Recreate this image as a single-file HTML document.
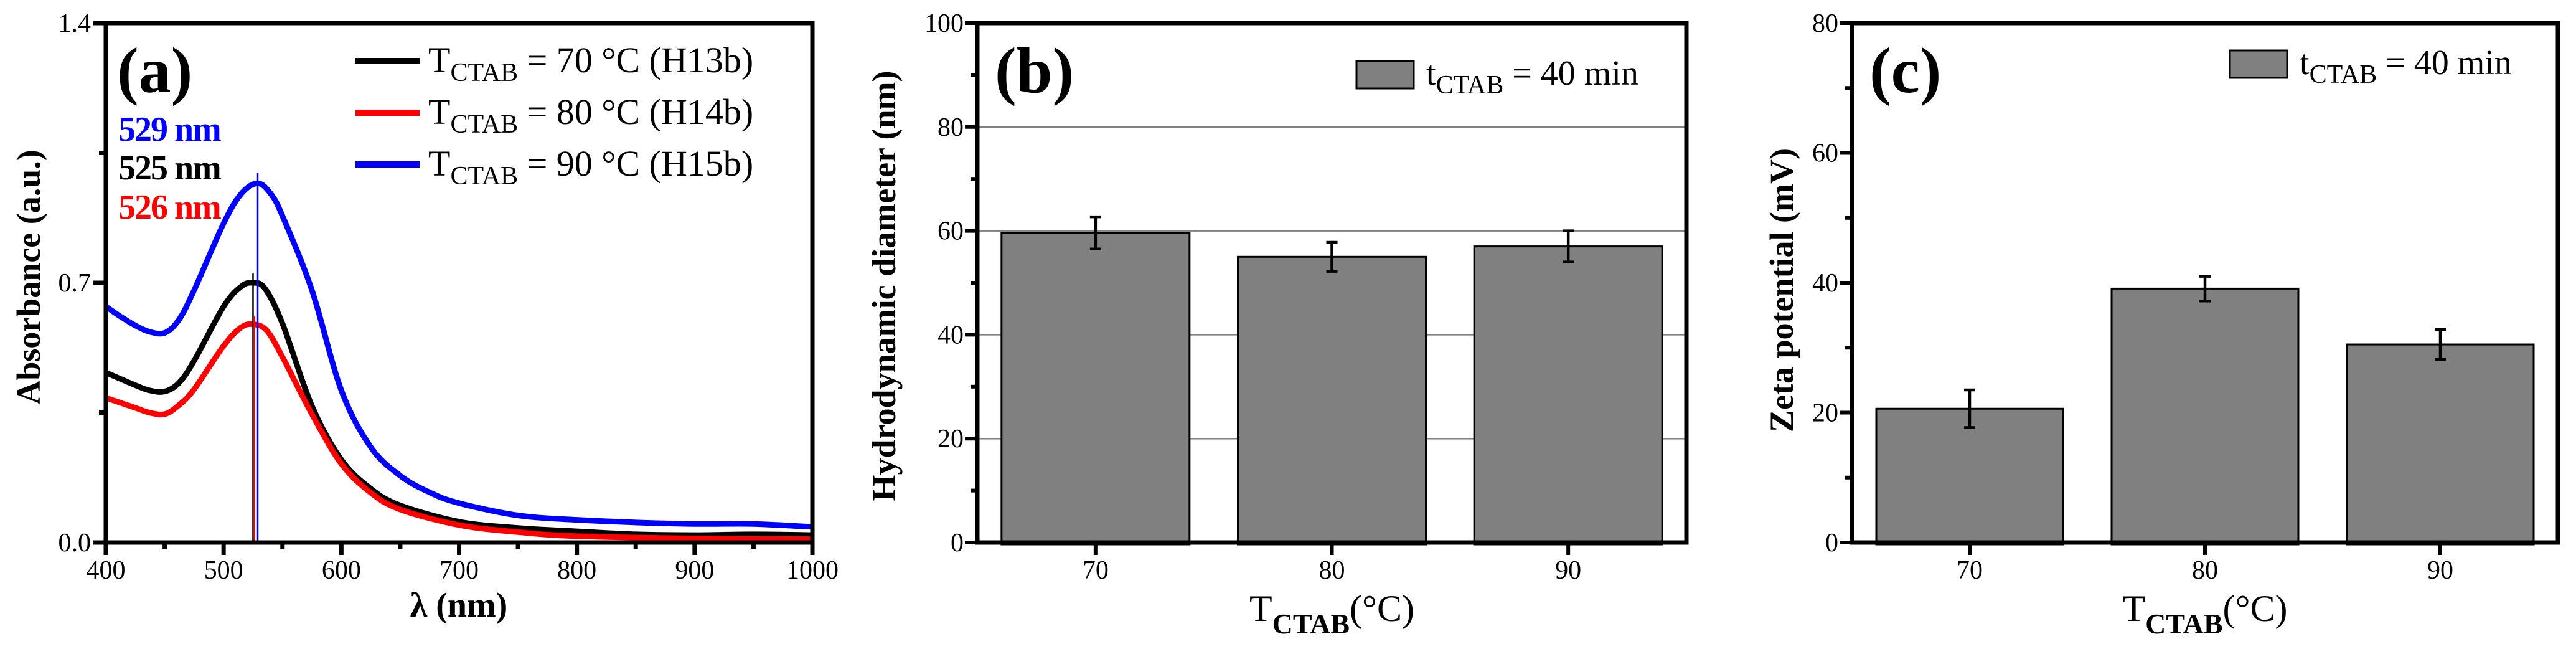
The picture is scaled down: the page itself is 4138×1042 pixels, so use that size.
<!DOCTYPE html>
<html><head><meta charset="utf-8"><style>
html,body{margin:0;padding:0;background:#fff;}
svg{display:block;}
svg text{font-family:"Liberation Serif","Times New Roman",serif;}
</style></head><body>
<svg id="fig" width="4138" height="1042" viewBox="0 0 4138 1042" xmlns="http://www.w3.org/2000/svg" font-family="Liberation Serif, serif"></svg>
<script>
// ---- Panel (a) data ----
const lambdaBlue = [400,412,425,437,450,462,475,500,515,529,540,550,575,600,625,650,675,700,750,800,850,900,950,1000];
const absBlue    = [0.636,0.61,0.585,0.568,0.565,0.60,0.68,0.86,0.94,0.968,0.94,0.88,0.68,0.41,0.257,0.18,0.135,0.106,0.073,0.061,0.054,0.05,0.05,0.042];
const lambdaBlack= [400,425,437,450,462,475,500,515,525,535,550,575,600,625,650,700,750,800,850,900,950,1000];
const absBlack   = [0.458,0.424,0.41,0.407,0.43,0.49,0.636,0.69,0.70,0.685,0.59,0.368,0.223,0.145,0.10,0.056,0.039,0.03,0.022,0.02,0.022,0.02];
const lambdaRed  = [400,425,437,450,462,475,500,515,526,537,550,575,600,625,650,700,750,800,900,1000];
const absRed     = [0.39,0.363,0.35,0.346,0.37,0.413,0.53,0.58,0.588,0.57,0.50,0.346,0.212,0.134,0.089,0.047,0.028,0.017,0.011,0.009];
const peakNm     = [525,526,529];
const peakTop    = [0.725,0.61,0.996];
const xTicksA    = [400,500,600,700,800,900,1000];
const yTicksA    = [0.0,0.7,1.4];
const yTickLabelsA = ["0.0","0.7","1.4"];
// ---- Panel (b) data ----
const catsB = ["70","80","90"];
const valsB = [59.6,55.0,57.0];
const errB  = [3.1,2.8,3.0];
const yTicksB = [0,20,40,60,80,100];
// ---- Panel (c) data ----
const catsC = ["70","80","90"];
const valsC = [20.6,39.1,30.5];
const errC  = [2.9,1.9,2.3];
const yTicksC = [0,20,40,60,80];

const NS="http://www.w3.org/2000/svg";
const svg=document.getElementById('fig');
const FF='Liberation Serif, serif';
function el(tag,attrs,parent){const e=document.createElementNS(NS,tag);for(const k in attrs)e.setAttribute(k,attrs[k]);if(tag==='text')e.setAttribute('font-family',FF);(parent||svg).appendChild(e);return e;}

// ===== Panel (a) =====
const aL=170,aR=1305,aT=37,aB=871;
const xA=v=>aL+(v-400)/600*(aR-aL);
const yA=v=>aB-v/1.4*(aB-aT);
const gA=el('g',{});


function smoothPath(xs,ys){
  const p=xs.map((x,i)=>[xA(x),yA(ys[i])]);
  let d=`M${p[0][0]},${p[0][1]}`;
  for(let i=0;i<p.length-1;i++){
    const p0=p[Math.max(0,i-1)],p1=p[i],p2=p[i+1],p3=p[Math.min(p.length-1,i+2)];
    const c1=[p1[0]+(p2[0]-p0[0])/6,p1[1]+(p2[1]-p0[1])/6];
    const c2=[p2[0]-(p3[0]-p1[0])/6,p2[1]-(p3[1]-p1[1])/6];
    d+=` C${c1[0]},${c1[1]} ${c2[0]},${c2[1]} ${p2[0]},${p2[1]}`;
  }
  return d;
}
const series=[[lambdaBlue,absBlue,'#0000ff','series-blue-90C'],[lambdaBlack,absBlack,'#000','series-black-70C'],[lambdaRed,absRed,'#ff0000','series-red-80C']];
series.forEach(s=>{
  const p=el('path',{d:smoothPath(s[0],s[1]),fill:'none',stroke:s[2],'stroke-width':9,'stroke-linejoin':'round'},gA);
  
  
});
const peakCols=['#000','#ff0000','#0000ff'];
peakNm.forEach((n,i)=>{
  const l=el('line',{x1:xA(n),x2:xA(n),y1:yA(peakTop[i]),y2:aB,stroke:peakCols[i],'stroke-width':2.5},gA);
  
  
});
const fa=el('rect',{x:aL,y:aT,width:aR-aL,height:aB-aT,fill:'none',stroke:'#000','stroke-width':7},gA);


for(let v=400;v<=1000;v+=50){
  const major=v%100===0;
  el('line',{x1:xA(v),x2:xA(v),y1:aB,y2:aB+(major?20:11),stroke:'#000','stroke-width':7},gA);
}
xTicksA.forEach(v=>{
  const t=el('text',{x:xA(v),y:929,'font-size':42,'text-anchor':'middle'},gA);
  t.textContent=v;
  
  
});
for(let v=0;v<=1.4001;v+=0.35){
  const major=Math.abs(v/0.7-Math.round(v/0.7))<1e-6;
  el('line',{x1:aL-(major?20:11),x2:aL,y1:yA(v),y2:yA(v),stroke:'#000','stroke-width':7},gA);
}
yTicksA.forEach((v,i)=>{
  const t=el('text',{x:aL-24,y:yA(v)+14,'font-size':42,'text-anchor':'end'},gA);
  t.textContent=yTickLabelsA[i];
  
  
});
let t;
t=el('text',{x:737,y:990,'font-size':56,'font-weight':'bold','text-anchor':'middle'},gA);
t.textContent='λ (nm)';
t=el('text',{x:0,y:0,'font-size':54,'font-weight':'bold','text-anchor':'middle',transform:'translate(64,445) rotate(-90)'},gA);
t.textContent='Absorbance (a.u.)';
t=el('text',{x:188,y:148,'font-size':104,'font-weight':'bold'},gA);
t.textContent='(a)';
[['529 nm','#0000ff',226],['525 nm','#000',288],['526 nm','#ff0000',351]].forEach(p=>{
  const tt=el('text',{x:190,y:p[2],'font-size':56,'font-weight':'bold',fill:p[1],'letter-spacing':'-2'},gA);
  tt.textContent=p[0];
  
  
});
[['70','H13b','#000',98],['80','H14b','#ff0000',181],['90','H15b','#0000ff',264]].forEach(p=>{
  const g=el('g',{},gA);
  
  
  el('line',{x1:571,x2:674,y1:p[3],y2:p[3],stroke:p[2],'stroke-width':10},g);
  const tx=el('text',{x:688,y:p[3]+18,'font-size':58},g);
  tx.innerHTML=`T<tspan font-size="42" dy="14">CTAB</tspan><tspan dy="-14"> = ${p[0]} °C (${p[1]})</tspan>`;
});

// ===== Bar panels =====
function barPanel(o){
  const g=el('g',{});
  
  
  const y=v=>o.B-v/o.max*(o.B-o.T);
  const step=(o.R-o.L)/3;
  const cx=i=>o.L+step*(i+0.5);
  if(o.grid){o.ticks.forEach(v=>{if(v>0&&v<o.max){const gl=el('line',{x1:o.L,x2:o.R,y1:y(v),y2:y(v),stroke:'#808080','stroke-width':2.5},g);}});}
  o.vals.forEach((v,i)=>{
    const r=el('rect',{x:cx(i)-o.bw/2,y:y(v),width:o.bw,height:o.B-y(v)+3,fill:'#808080',stroke:'#000','stroke-width':3},g);
    
    
    const eg=el('g',{stroke:'#000','stroke-width':4.5},g);
    
    
    el('line',{x1:cx(i),x2:cx(i),y1:y(v+o.err[i]),y2:y(v-o.err[i])},eg);
    el('line',{x1:cx(i)-9,x2:cx(i)+9,y1:y(v+o.err[i]),y2:y(v+o.err[i])},eg);
    el('line',{x1:cx(i)-9,x2:cx(i)+9,y1:y(v-o.err[i]),y2:y(v-o.err[i])},eg);
    el('line',{x1:cx(i),x2:cx(i),y1:o.B,y2:o.B+20,stroke:'#000','stroke-width':6},g);
    const tl=el('text',{x:cx(i),y:929,'font-size':42,'text-anchor':'middle'},g);
    tl.textContent=o.cats[i];
    
    
  });
  const fr=el('rect',{x:o.L,y:o.T,width:o.R-o.L,height:o.B-o.T,fill:'none',stroke:'#000','stroke-width':7},g);
  
  
  const half=o.ticks[1]/2;
  for(let v=0;v<=o.max+1e-6;v+=half){
    const major=Math.abs(v/o.ticks[1]-Math.round(v/o.ticks[1]))<1e-6;
    el('line',{x1:o.L-(major?20:11),x2:o.L,y1:y(v),y2:y(v),stroke:'#000','stroke-width':6},g);
  }
  o.ticks.forEach(v=>{
    const tl=el('text',{x:o.L-22,y:y(v)+14,'font-size':42,'text-anchor':'end'},g);
    tl.textContent=v;
    
    
  });
  const xt=el('text',{x:(o.L+o.R)/2,y:997,'font-size':60,'text-anchor':'middle'},g);
  xt.innerHTML='T<tspan font-size="46" font-weight="bold" dy="20">CTAB</tspan><tspan dy="-20">(°C)</tspan>';
  
  
  const yt=el('text',{x:0,y:0,'font-size':54,'font-weight':'bold','text-anchor':'middle',transform:`translate(${o.ytx},${o.yty}) rotate(-90)`},g);
  yt.textContent=o.ytitle;
  
  
  const pl=el('text',{x:o.L+28,y:148,'font-size':104,'font-weight':'bold'},g);
  pl.textContent=o.label;
  
  
  const lg=el('g',{},g);
  
  
  el('rect',{x:o.lx,y:o.ly,width:92,height:44,fill:'#808080',stroke:'#000','stroke-width':3},lg);
  const lt=el('text',{x:o.lx+112,y:o.ly+38,'font-size':56},lg);
  lt.innerHTML='t<tspan font-size="42" dy="14">CTAB</tspan><tspan dy="-14"> = 40 min</tspan>';
}
barPanel({name:'panel-b',L:1570,R:2709,T:37,B:871,max:100,ticks:yTicksB,vals:valsB,err:errB,cats:catsB,bw:302,grid:true,
  ytitle:'Hydrodynamic diameter (nm)',ytx:1438,yty:459,label:'(b)',lx:2179,ly:98});
barPanel({name:'panel-c',L:2975,R:4109,T:37,B:871,max:80,ticks:yTicksC,vals:valsC,err:errC,cats:catsC,bw:300,grid:false,
  ytitle:'Zeta potential (mV)',ytx:2880,yty:466,label:'(c)',lx:3582,ly:81});
</script>
</body></html>
